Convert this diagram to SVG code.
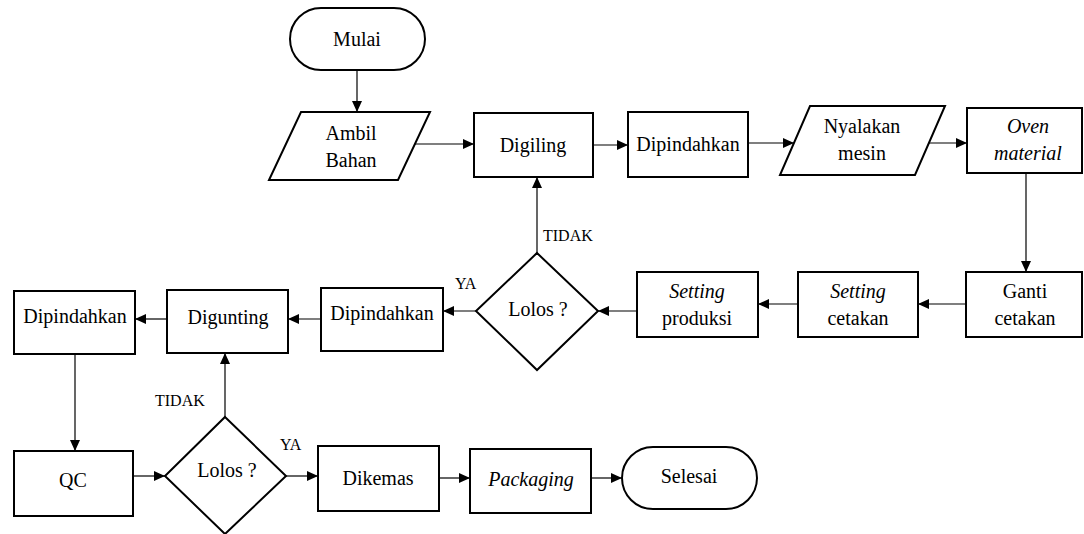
<svg xmlns="http://www.w3.org/2000/svg" width="1084" height="534" viewBox="0 0 1084 534" font-family="Liberation Serif, Times New Roman, serif">
<style>
.n{fill:#fff;stroke:#000;stroke-width:2}
.t{font-size:20px;fill:#000;text-anchor:middle}
.i{font-style:italic}
.l{font-size:16px;fill:#000}
.c{fill:none;stroke:#000;stroke-width:1.2}
</style>
<defs>
<marker id="a" markerUnits="userSpaceOnUse" markerWidth="12" markerHeight="10" refX="11" refY="5" orient="auto">
<path d="M0,0 L11,5 L0,10 Z" fill="#000"/>
</marker>
</defs>
<rect width="1084" height="534" fill="#fff"/>
<g id="connectors">
<path class="c" marker-end="url(#a)" d="M357,70 V112"/>
<path class="c" marker-end="url(#a)" d="M415,144 H474"/>
<path class="c" marker-end="url(#a)" d="M593,145 H628"/>
<path class="c" marker-end="url(#a)" d="M748,143 H794"/>
<path class="c" marker-end="url(#a)" d="M929,143 H967"/>
<path class="c" marker-end="url(#a)" d="M1026,173 V272"/>
<path class="c" marker-end="url(#a)" d="M966,304 H918"/>
<path class="c" marker-end="url(#a)" d="M798,304 H758"/>
<path class="c" marker-end="url(#a)" d="M637,311 H598"/>
<path class="c" marker-end="url(#a)" d="M537,253 V177"/>
<path class="c" marker-end="url(#a)" d="M476,311 H443"/>
<path class="c" marker-end="url(#a)" d="M321,319 H288"/>
<path class="c" marker-end="url(#a)" d="M167,319 H135"/>
<path class="c" marker-end="url(#a)" d="M75,354 V451"/>
<path class="c" marker-end="url(#a)" d="M133,476 H165"/>
<path class="c" marker-end="url(#a)" d="M225,417 V353"/>
<path class="c" marker-end="url(#a)" d="M286,476 H318"/>
<path class="c" marker-end="url(#a)" d="M439,478 H470"/>
<path class="c" marker-end="url(#a)" d="M591,478 H622"/>
<text class="l" x="543" y="241">TIDAK</text>
<text class="l" x="455" y="289">YA</text>
<text class="l" x="155" y="406">TIDAK</text>
<text class="l" x="280" y="450">YA</text>
</g>
<g id="mulai"><rect class="n" x="290" y="8" width="135" height="62" rx="31"/><text class="t" x="357" y="46">Mulai</text></g>
<g id="ambil"><polygon class="n" points="301,112 430,112 398,180 269,180"/><text class="t" x="351" y="140">Ambil</text><text class="t" x="351" y="167">Bahan</text></g>
<g id="digiling"><rect class="n" x="474" y="113" width="119" height="64"/><text class="t" x="533" y="152">Digiling</text></g>
<g id="dipindahkan1"><rect class="n" x="628" y="112" width="120" height="65"/><text class="t" x="688" y="151">Dipindahkan</text></g>
<g id="nyalakan"><polygon class="n" points="810,106 945,106 915,175 780,175"/><text class="t" x="862" y="133">Nyalakan</text><text class="t" x="862" y="160">mesin</text></g>
<g id="oven"><rect class="n" x="967" y="108" width="115" height="65"/><text class="t i" x="1028" y="133">Oven</text><text class="t i" x="1028" y="160">material</text></g>
<g id="ganti"><rect class="n" x="966" y="272" width="116" height="65"/><text class="t" x="1025" y="298">Ganti</text><text class="t" x="1025" y="325">cetakan</text></g>
<g id="settingcetakan"><rect class="n" x="798" y="272" width="120" height="65"/><text class="t i" x="858" y="298">Setting</text><text class="t" x="858" y="325">cetakan</text></g>
<g id="settingproduksi"><rect class="n" x="637" y="272" width="121" height="65"/><text class="t i" x="697" y="298">Setting</text><text class="t" x="697" y="325">produksi</text></g>
<g id="lolos1"><polygon class="n" points="537,253 598,311 537,370 476,311"/><text class="t" x="538" y="316">Lolos ?</text></g>
<g id="dipindahkan2"><rect class="n" x="321" y="288" width="122" height="63"/><text class="t" x="382" y="320">Dipindahkan</text></g>
<g id="digunting"><rect class="n" x="167" y="290" width="121" height="63"/><text class="t" x="228" y="324">Digunting</text></g>
<g id="dipindahkan3"><rect class="n" x="14" y="291" width="121" height="63"/><text class="t" x="75" y="323">Dipindahkan</text></g>
<g id="qc"><rect class="n" x="14" y="451" width="119" height="65"/><text class="t" x="73" y="487">QC</text></g>
<g id="lolos2"><polygon class="n" points="225,417 286,476 225,534 165,476"/><text class="t" x="227" y="477">Lolos ?</text></g>
<g id="dikemas"><rect class="n" x="318" y="446" width="121" height="65"/><text class="t" x="378" y="485">Dikemas</text></g>
<g id="packaging"><rect class="n" x="470" y="449" width="121" height="64"/><text class="t i" x="531" y="486">Packaging</text></g>
<g id="selesai"><rect class="n" x="622" y="447" width="135" height="62" rx="31"/><text class="t" x="689" y="483">Selesai</text></g>
</svg>
